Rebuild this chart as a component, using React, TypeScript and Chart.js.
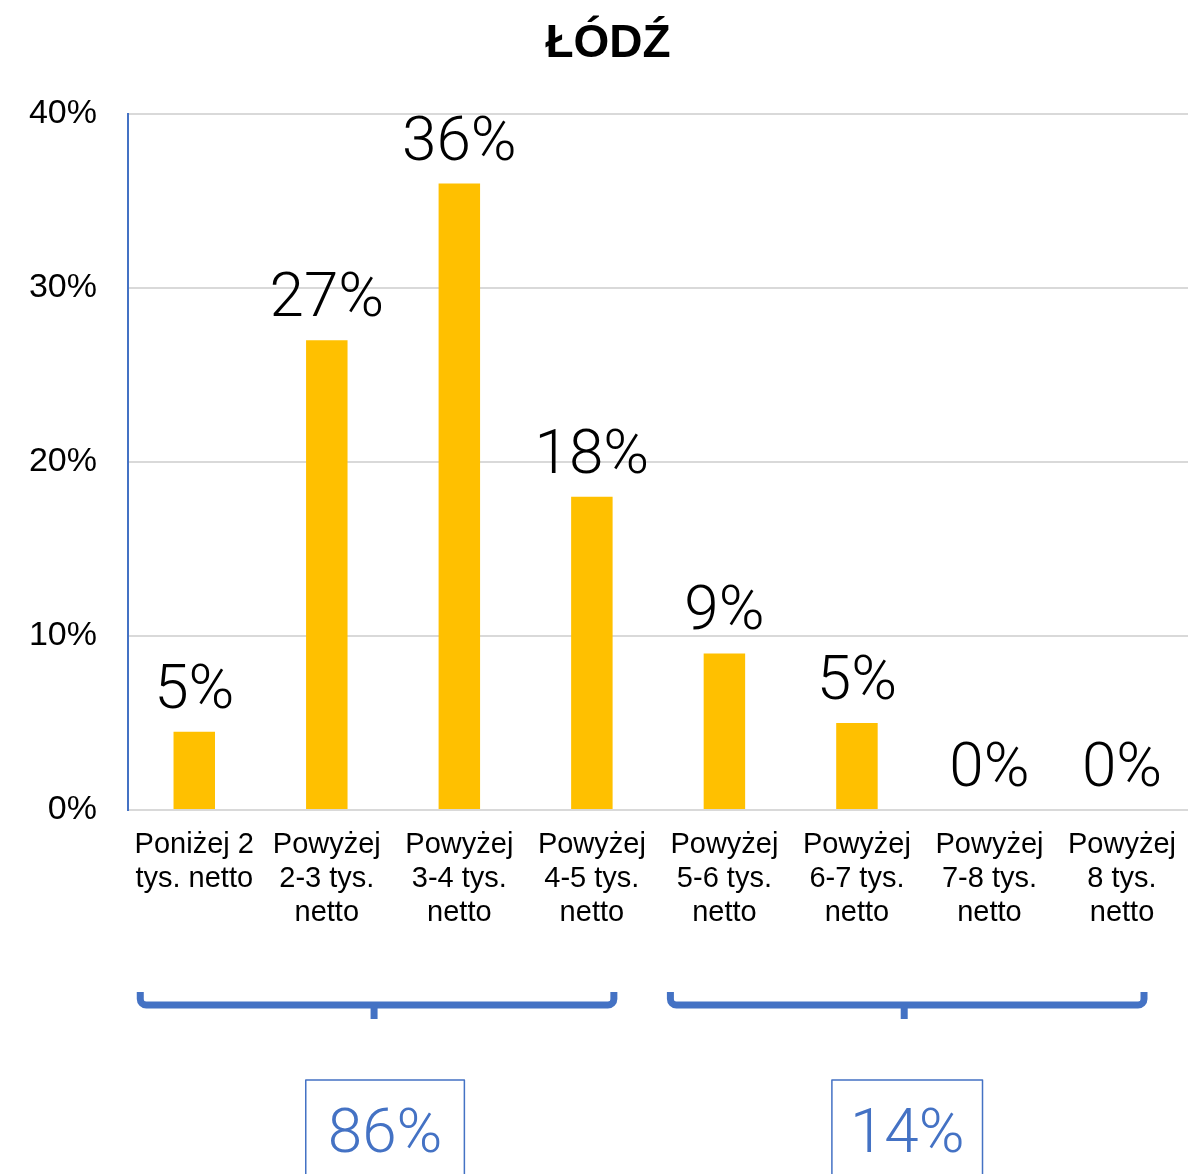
import React, { useEffect, useRef } from "react";
import { Chart, registerables } from "chart.js";

Chart.register(...registerables);

const chartTitle = "ŁÓDŹ";
const categories: string[][] = [
  ["Poniżej 2", "tys. netto"],
  ["Powyżej", "2-3 tys.", "netto"],
  ["Powyżej", "3-4 tys.", "netto"],
  ["Powyżej", "4-5 tys.", "netto"],
  ["Powyżej", "5-6 tys.", "netto"],
  ["Powyżej", "6-7 tys.", "netto"],
  ["Powyżej", "7-8 tys.", "netto"],
  ["Powyżej", "8 tys.", "netto"],
];
const shares: number[] = [4.5, 27, 36, 18, 9, 5, 0, 0];
const yTicks: number[] = [0, 10, 20, 30, 40];
// groups of categories (first index, last index) and their summed shares
const groupStart: number[] = [0, 4];
const groupEnd: number[] = [3, 7];
const groupTotals: number[] = [86, 14];

const BLUE = "#4472C4";
const GOLD = "#FFC000";
const GRID = "#d9d9d9";
const LABEL_FONT = "300 62px Roboto, 'Open Sans', sans-serif";

const overlayPlugin = {
  id: "overlay",
  afterDatasetsDraw(chart: any) {
    const ctx = chart.ctx as CanvasRenderingContext2D;
    const meta = chart.getDatasetMeta(0);
    ctx.save();
    // data labels
    ctx.font = LABEL_FONT;
    ctx.fillStyle = "#000";
    ctx.textAlign = "center";
    ctx.textBaseline = "alphabetic";
    meta.data.forEach((el: any, i: number) => {
      ctx.fillText(Math.round(shares[i]) + "%", el.x, el.y - 24);
    });
    // title
    ctx.font = "bold 46px 'Liberation Sans', Arial, sans-serif";
    ctx.fillText(chartTitle, 608, 57);

    // brackets and totals
    const xs = chart.scales.x;
    groupStart.forEach((s, g) => {
      const x1 = xs.getPixelForValue(s) - 54;
      const x2 = xs.getPixelForValue(groupEnd[g]) + 22;
      const yb = 1005;
      const top = 992;
      const cx = (x1 + x2) / 2;
      ctx.strokeStyle = BLUE;
      ctx.lineWidth = 7;
      ctx.lineJoin = "round";
      ctx.lineCap = "butt";
      ctx.beginPath();
      ctx.moveTo(x1, top);
      ctx.arcTo(x1, yb, x1 + 10, yb, 6);
      ctx.lineTo(x2 - 10, yb);
      ctx.arcTo(x2, yb, x2, top, 6);
      ctx.lineTo(x2, top);
      ctx.stroke();
      ctx.beginPath();
      ctx.moveTo(cx - 3, yb);
      ctx.lineTo(cx - 3, 1019);
      ctx.stroke();

      const txt = groupTotals[g] + "%";
      ctx.font = LABEL_FONT;
      const w = ctx.measureText(txt).width;
      const bw = w + (g === 0 ? 44 : 36);
      const bcx = g === 0 ? cx + 8 : cx;
      const bx = bcx - bw / 2;
      ctx.lineWidth = 1.5;
      ctx.strokeRect(bx, 1080, bw, 140);
      ctx.fillStyle = BLUE;
      ctx.textAlign = "center";
      ctx.fillText(txt, bcx, 1152);
    });
    ctx.restore();
  },
};

export default function App() {
  const ref = useRef<HTMLCanvasElement | null>(null);
  useEffect(() => {
    if (!ref.current) return;
    const chart = new Chart(ref.current, {
      type: "bar",
      data: {
        labels: categories,
        datasets: [
          {
            data: shares,
            backgroundColor: GOLD,
            borderWidth: 0,
            categoryPercentage: 1,
            barPercentage: 0.313,
          },
        ],
      },
      options: {
        animation: false,
        responsive: false,
        maintainAspectRatio: false,
        layout: { padding: { top: 114, left: 0, right: 0, bottom: 0 } },
        plugins: {
          legend: { display: false },
          title: { display: false },
          tooltip: { enabled: false },
        },
        scales: {
          x: {
            grid: { display: true, color: "rgba(0,0,0,0)", drawTicks: false },
            border: { display: true, color: GRID, width: 2 },
            ticks: {
              padding: 18,
              color: "#000",
              maxRotation: 0,
              autoSkip: false,
              font: { family: "'Liberation Sans', Arial, sans-serif", size: 29, lineHeight: 34 / 29 },
            },
            afterFit(scale: any) {
              scale.height = 1174 - 810;
            },
          },
          y: {
            min: yTicks[0],
            max: yTicks[yTicks.length - 1],
            grid: { color: GRID, lineWidth: 2, drawTicks: false },
            border: { display: true, color: BLUE, width: 2 },
            ticks: {
              stepSize: 10,
              padding: 31,
              color: "#000",
              font: { family: "'Liberation Sans', Arial, sans-serif", size: 34 },
              callback: (v: any) => v + "%",
            },
            afterFit(scale: any) {
              scale.width = 128;
            },
          },
        },
      },
      plugins: [overlayPlugin],
    });
    return () => chart.destroy();
  }, []);
  return (
    <div style={{ position: "fixed", left: 0, top: 0, width: 1188, height: 1174, overflow: "hidden", background: "#fff" }}>
      <canvas ref={ref} width={1194} height={1174} style={{ width: 1194, height: 1174, display: "block" }} />
    </div>
  );
}
